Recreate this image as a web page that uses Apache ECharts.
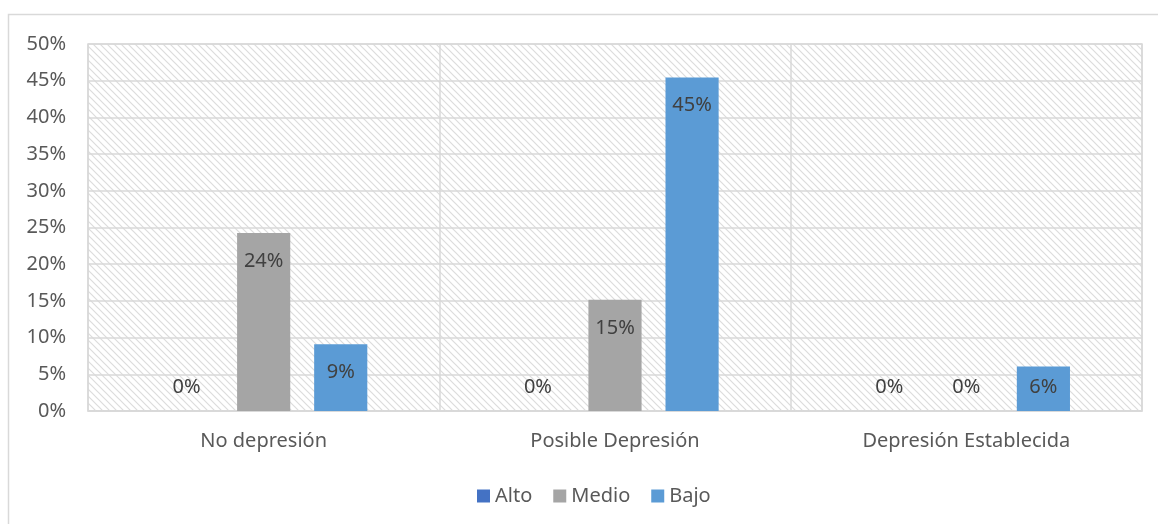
<!DOCTYPE html>
<html>
<head>
<meta charset="utf-8">
<script src="https://cdn.jsdelivr.net/npm/echarts@6/dist/echarts.min.js"></script>
<style>
html, body { margin: 0; padding: 0; background: #fff; }
#chart { width: 1158px; height: 524px; }
</style>
</head>
<body>
<div id="chart"></div>
<script>
// datos (fracciones sobre 33 casos)
var categorias = ['No depresión', 'Posible Depresión', 'Depresión Establecida'];
var alto = [0, 0, 0];
var medio = [24.24, 15.15, 0];
var bajo = [9.09, 45.45, 6.06];
var series = [
	{ name: 'Alto', color: '#4472C4', values: alto },
	{ name: 'Medio', color: '#A5A5A5', values: medio },
	{ name: 'Bajo', color: '#5B9BD5', values: bajo }
];

var FONT = '"Noto Sans", sans-serif';

// fondo rayado del area de trazado
function hatch(){
	var c = document.createElement('canvas');
	c.width = 7; c.height = 7;
	var ctx = c.getContext('2d');
	ctx.strokeStyle = '#dcdcdc';
	ctx.lineWidth = 1.2;
	ctx.beginPath();
	ctx.moveTo(-1, -1); ctx.lineTo(8, 8);
	ctx.moveTo(-1, 6); ctx.lineTo(1, 8);
	ctx.moveTo(6, -1); ctx.lineTo(8, 1);
	ctx.stroke();
	return { image: c, repeat: 'repeat' };
}

function barData(values){
	return values.map(function(v){
		var item = { value: v };
		if (v < 8) {
			item.label = { position: 'insideBottom', distance: 14 };
		}
		return item;
	});
}

var myChart = echarts.init(document.getElementById('chart'));
var options = {
	animation: false,
	textStyle: { fontFamily: FONT },
	graphic: [{
		type: 'rect',
		shape: { x: 8.5, y: 14.5, width: 1160, height: 520 },
		style: { fill: null, stroke: '#d9d9d9', lineWidth: 1.5 },
		silent: true
	}],
	grid: {
		left: 88, right: 16, top: 44, bottom: 113,
		show: true,
		backgroundColor: hatch(),
		borderColor: '#d9d9d9',
		borderWidth: 1.5
	},
	legend: {
		bottom: 13,
		left: 472,
		itemWidth: 13,
		itemHeight: 13,
		itemGap: 21,
		icon: 'rect',
		textStyle: { fontSize: 20, color: '#595959', fontFamily: FONT },
		data: series.map(function(s){ return s.name; })
	},
	xAxis: {
		type: 'category',
		data: categorias,
		axisLine: { lineStyle: { color: '#d9d9d9', width: 1.5 } },
		axisTick: { show: false },
		splitLine: { show: true, lineStyle: { color: '#d9d9d9', width: 1.5 } },
		axisLabel: { fontSize: 20, color: '#595959', margin: 20, fontFamily: FONT }
	},
	yAxis: {
		type: 'value',
		min: 0, max: 50, interval: 5,
		axisLine: { show: false },
		axisTick: { show: false },
		splitLine: { lineStyle: { color: '#d9d9d9', width: 1.5 } },
		axisLabel: { fontSize: 20, color: '#595959', margin: 22, formatter: '{value}%', fontFamily: FONT }
	},
	series: series.map(function(s){
		return {
			name: s.name,
			type: 'bar',
			barGap: '45%',
			barCategoryGap: '41%',
			itemStyle: { color: s.color },
			label: {
				show: true,
				position: 'insideTop',
				distance: 18,
				fontSize: 20,
				color: '#404040',
				fontFamily: FONT,
				formatter: function(p){ return Math.round(p.value) + '%'; }
			},
			data: barData(s.values)
		};
	})
};
myChart.setOption(options);
</script>
</body>
</html>
